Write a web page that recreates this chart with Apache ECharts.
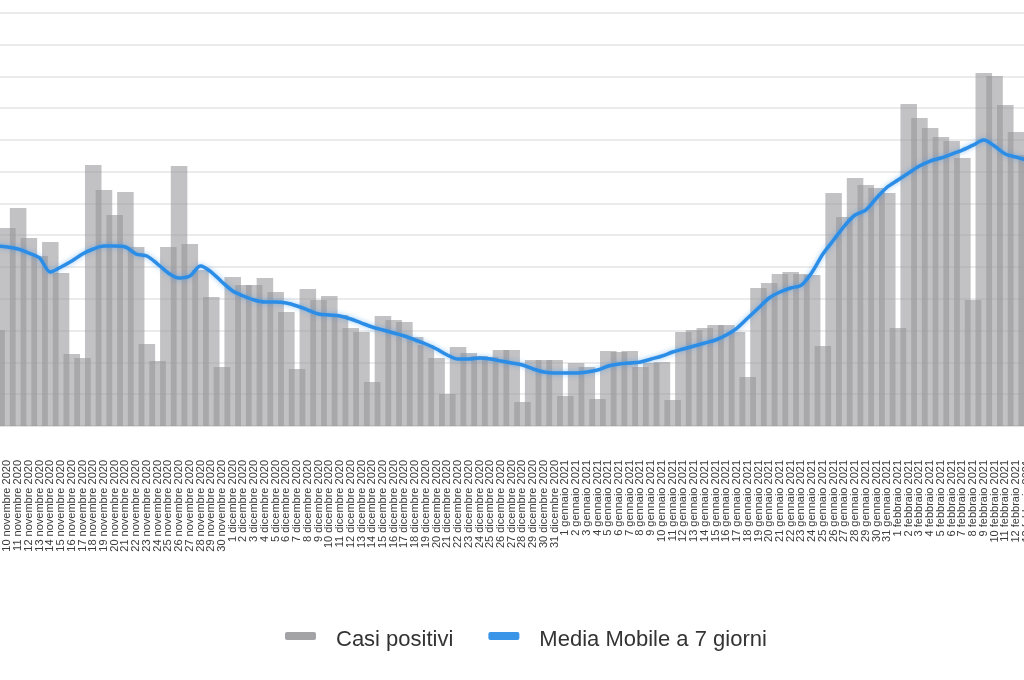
<!DOCTYPE html>
<html>
<head>
<meta charset="utf-8">
<script src="https://cdn.jsdelivr.net/npm/echarts@6/dist/echarts.min.js"></script>
<style>
html,body{margin:0;padding:0;background:#fff;overflow:hidden;width:1024px;height:680px;position:relative;}
#chart{position:absolute;left:-9px;top:0;width:1042px;height:680px;}
</style>
</head>
<body>
<div id="chart"></div>
<script>
const categories = [
'9 novembre 2020','10 novembre 2020','11 novembre 2020','12 novembre 2020','13 novembre 2020','14 novembre 2020','15 novembre 2020','16 novembre 2020','17 novembre 2020','18 novembre 2020','19 novembre 2020','20 novembre 2020','21 novembre 2020','22 novembre 2020','23 novembre 2020','24 novembre 2020','25 novembre 2020','26 novembre 2020','27 novembre 2020','28 novembre 2020','29 novembre 2020','30 novembre 2020',
'1 dicembre 2020','2 dicembre 2020','3 dicembre 2020','4 dicembre 2020','5 dicembre 2020','6 dicembre 2020','7 dicembre 2020','8 dicembre 2020','9 dicembre 2020','10 dicembre 2020','11 dicembre 2020','12 dicembre 2020','13 dicembre 2020','14 dicembre 2020','15 dicembre 2020','16 dicembre 2020','17 dicembre 2020','18 dicembre 2020','19 dicembre 2020','20 dicembre 2020','21 dicembre 2020','22 dicembre 2020','23 dicembre 2020','24 dicembre 2020','25 dicembre 2020','26 dicembre 2020','27 dicembre 2020','28 dicembre 2020','29 dicembre 2020','30 dicembre 2020','31 dicembre 2020',
'1 gennaio 2021','2 gennaio 2021','3 gennaio 2021','4 gennaio 2021','5 gennaio 2021','6 gennaio 2021','7 gennaio 2021','8 gennaio 2021','9 gennaio 2021','10 gennaio 2021','11 gennaio 2021','12 gennaio 2021','13 gennaio 2021','14 gennaio 2021','15 gennaio 2021','16 gennaio 2021','17 gennaio 2021','18 gennaio 2021','19 gennaio 2021','20 gennaio 2021','21 gennaio 2021','22 gennaio 2021','23 gennaio 2021','24 gennaio 2021','25 gennaio 2021','26 gennaio 2021','27 gennaio 2021','28 gennaio 2021','29 gennaio 2021','30 gennaio 2021','31 gennaio 2021',
'1 febbraio 2021','2 febbraio 2021','3 febbraio 2021','4 febbraio 2021','5 febbraio 2021','6 febbraio 2021','7 febbraio 2021','8 febbraio 2021','9 febbraio 2021','10 febbraio 2021','11 febbraio 2021','12 febbraio 2021','13 febbraio 2021'
];

const casiPositivi = [
3019,6227,6856,5913,5347,5787,4812,2264,2139,8208,
7422,6636,7359,5630,2579,2044,5630,8177,5724,4906,
4057,1856,4686,4434,4434,4655,4214,3585,1793,4309,
3963,4089,3491,3082,2956,1384,3460,3334,3271,2799,
2547,2139,1006,2485,2296,2202,2170,2390,2390,755,
2076,2076,2076,944,1981,1856,849,2359,2327,2359,
1856,1981,2013,818,2956,3019,3082,3176,3176,2956,
1541,4340,4497,4780,4843,4780,4749,2516,7328,6573,
7800,7579,7485,7328,3082,10127,9687,9372,9089,8963,
8429,3963,11102,11008,10095,9246,8523
];

const mediaMobile7 = [
5661,5630,5567,5441,5284,4843,5001,5189,5409,5567,
5661,5661,5630,5409,5347,5095,4812,4655,4718,5032,
4843,4529,4246,4089,3963,3900,3900,3868,3774,3648,
3522,3491,3460,3365,3239,3114,3019,2925,2831,2705,
2579,2422,2233,2107,2107,2139,2107,2044,1981,1918,
1793,1698,1667,1667,1667,1698,1761,1887,1950,1981,
2013,2107,2202,2327,2422,2516,2610,2705,2862,3082,
3397,3711,4026,4214,4340,4434,4843,5409,5850,6290,
6636,6793,7171,7517,7737,7957,8177,8334,8429,8554,
8680,8837,8995,8806,8554,8460,8366
];

const seriesNames = ['Casi positivi', 'Media Mobile a 7 giorni'];
const yTicks = { min: 0, max: 13000, interval: 1000 };

const BAR_FILL = 'rgba(150,148,152,0.58)';
const BAR_RATIO = 1.54;

const chart = echarts.init(document.getElementById('chart'), null, { renderer: 'canvas' });

chart.setOption({
  backgroundColor: '#ffffff',
  animation: false,
  grid: { left: 0.3, right: 0.9, top: 12.7, bottom: 254, containLabel: false },
  legend: {
    left: 289,
    top: 624,
    itemWidth: 31,
    itemHeight: 8,
    itemGap: 35,
    formatter: '{t|{name}}',
    textStyle: {
      fontFamily: 'Liberation Sans, Arial, sans-serif', fontSize: 22, color: '#333',
      rich: { t: { fontFamily: 'Liberation Sans, Arial, sans-serif', fontSize: 22, color: '#333', padding: [8, 0, 0, 15] } }
    },
    data: [
      { name: seriesNames[0], icon: 'roundRect', itemStyle: { color: '#a3a2a4' } },
      { name: seriesNames[1], icon: 'roundRect', itemStyle: { color: '#3a95e8' } }
    ]
  },
  xAxis: {
    type: 'category',
    data: categories,
    boundaryGap: true,
    axisTick: { show: false },
    axisLine: { show: true, lineStyle: { color: '#e2e2e2', width: 2 } },
    axisLabel: {
      interval: 0, rotate: 90, margin: 34,
      fontSize: 11, color: '#3a3a3a',
      fontFamily: 'Liberation Sans, Arial, sans-serif'
    },
    splitLine: { show: false }
  },
  yAxis: {
    type: 'value',
    min: yTicks.min, max: yTicks.max, interval: yTicks.interval,
    axisLabel: { show: false },
    axisLine: { show: false },
    axisTick: { show: false },
    splitLine: { show: true, lineStyle: { color: '#ebebeb', width: 2 } }
  },
  series: [
    {
      name: seriesNames[0],
      type: 'custom',
      itemStyle: { color: '#a3a2a4' },
      data: casiPositivi.map((v, i) => [i, v]),
      encode: { x: 0, y: 1 },
      renderItem: function (params, api) {
        const idx = api.value(0);
        const val = api.value(1);
        const top = api.coord([idx, val]);
        const base = api.coord([idx, 0]);
        const bw = api.size([1, 0])[0] * BAR_RATIO;
        return {
          type: 'rect',
          shape: { x: top[0] - bw / 2, y: top[1], width: bw, height: base[1] - top[1] },
          style: { fill: BAR_FILL }
        };
      },
      z: 2
    },
    {
      name: seriesNames[1],
      type: 'line',
      data: mediaMobile7,
      showSymbol: false,
      symbol: 'none',
      smooth: 0.3,
      lineStyle: {
        color: '#2b8de6', width: 3.5,
        shadowColor: 'rgba(60,150,240,0.55)', shadowBlur: 5
      },
      itemStyle: { color: '#3a95e8' },
      z: 5
    }
  ]
});
</script>
</body>
</html>
